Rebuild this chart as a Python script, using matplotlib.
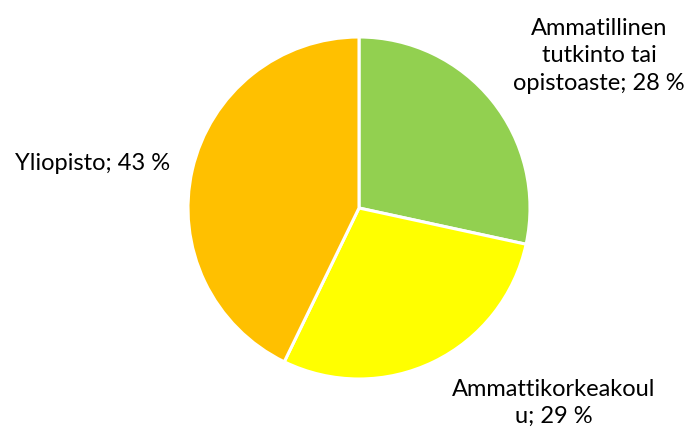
import matplotlib
matplotlib.use("Agg")
import matplotlib.pyplot as plt

categories = ["Ammatillinen\ntutkinto tai\nopistoaste", "Ammattikorkeakoul\nu", "Yliopisto"]
values = [28.4, 28.8, 42.8]
colors = ["#92D050", "#FFFF00", "#FFC000"]
label_pos_px = [(599, 56), (554, 403), (93, 164)]

W, H = 693, 434
fig = plt.figure(figsize=(W / 100, H / 100), dpi=100)
cx, cy, r = 359, 208, 171
ax = fig.add_axes([(cx - r) / W, (H - cy - r) / H, 2 * r / W, 2 * r / H])
ax.pie(values, colors=colors, startangle=90, counterclock=False, radius=1,
       wedgeprops=dict(edgecolor="white", linewidth=2.2))
ax.set_xlim(-1, 1)
ax.set_ylim(-1, 1)
ax.set_aspect("equal")
ax.axis("off")

for cat, v, (x, y) in zip(categories, values, label_pos_px):
    fig.text(x / W, 1 - y / H, f"{cat}; {round(v)} %", ha="center", va="center",
             fontsize=17, family=["Lato", "DejaVu Sans"], linespacing=1.38,
             color="#000000")

fig.savefig("out.png", dpi=100)
